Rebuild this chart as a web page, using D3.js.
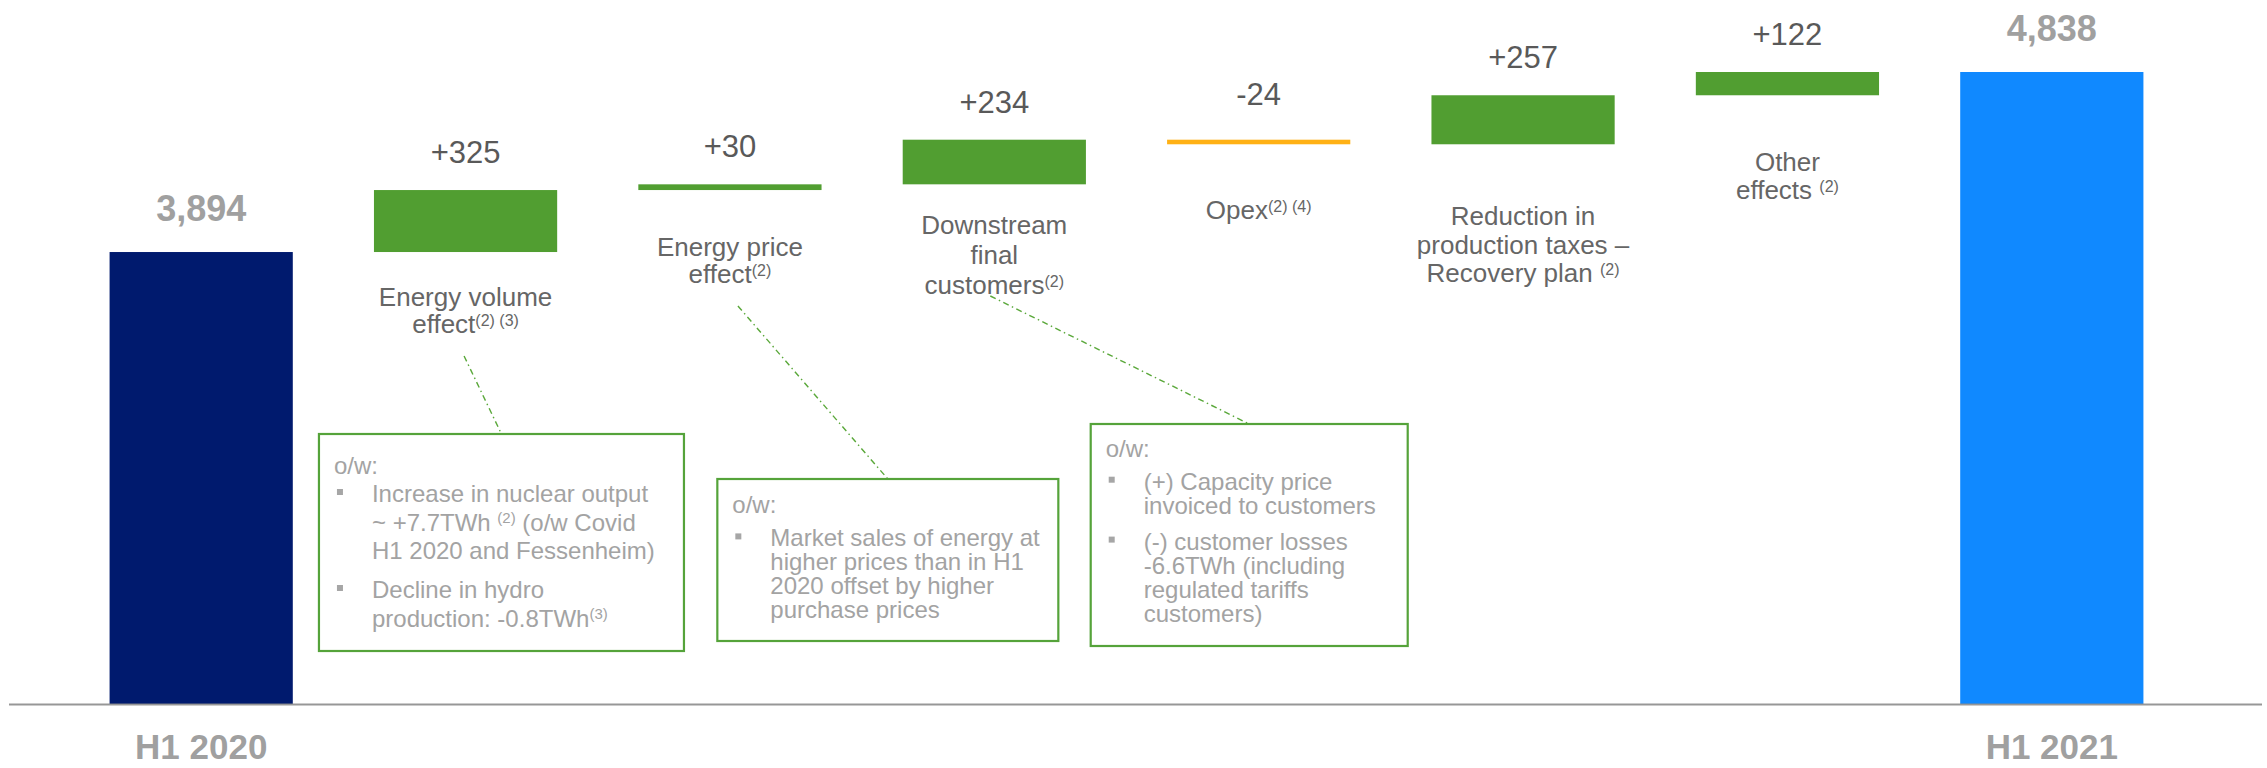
<!DOCTYPE html>
<html>
<head>
<meta charset="utf-8">
<script src="https://cdn.jsdelivr.net/npm/d3@7"></script>
<style>
  html, body { margin: 0; padding: 0; background: #fff; }
  svg { display: block; font-family: "Liberation Sans", Arial, sans-serif; }
  text { white-space: pre; }
</style>
</head>
<body>
<div id="chart"></div>
<script>
(() => {
  // ------- data -------
  const categories = [
    "H1 2020", "Energy volume effect", "Energy price effect", "Downstream final customers",
    "Opex", "Reduction in production taxes – Recovery plan", "Other effects", "H1 2021"
  ];
  const barKinds = ["start", "delta", "delta", "delta", "delta", "delta", "delta", "end"];
  const barValues = [3894, 325, 30, 234, -24, 257, 122, 4838];
  const valueLabels = ["3,894", "+325", "+30", "+234", "-24", "+257", "+122", "4,838"];
  const axisLabels = ["H1 2020", "", "", "", "", "", "", "H1 2021"];

  // {..} = superscript
  const effectLabels = [
    [],
    ["Energy volume", "effect{(2) (3)}"],
    ["Energy price", "effect{(2)}"],
    ["Downstream", "final", "customers{(2)}"],
    ["Opex{(2) (4)}"],
    ["Reduction in", "production taxes –", "Recovery plan {(2)}"],
    ["Other", "effects {(2)}"],
    []
  ];

  // call-out boxes: category index + paragraphs (first one is the "o/w:" header)
  const noteCats = [1, 2, 3];
  const noteTexts = [
    [["o/w:"],
     ["Increase in nuclear output", "~ +7.7TWh {(2)} (o/w Covid", "H1 2020 and Fessenheim)"],
     ["Decline in hydro", "production: -0.8TWh{(3)}"]],
    [["o/w:"],
     ["Market sales of energy at", "higher prices than in H1", "2020 offset by higher", "purchase prices"]],
    [["o/w:"],
     ["(+) Capacity price", "invoiced to customers"],
     ["(-) customer losses", "-6.6TWh (including", "regulated tariffs", "customers)"]]
  ];

  // ------- layout -------
  const W = 2267, H = 768;
  const Y_FLOOR = 1524;            // the slide's value axis does not start at zero
  const labelGap  = [0, 54, 66, 50, 75, 81, 76, 0];
  const labelLead = [0, 27, 27, 30, 28, 28.5, 28, 0];
  const noteLayout = [
    { dx: -55, top: 434, w: 365, h: 217, first: 40, head: 28,   lh: 28.5, para: 10.5, from: [-1.5, 356] },
    { dx: 79,  top: 479, w: 341, h: 162, first: 34, head: 33.4, lh: 23.7, para: 10,   from: [8, 306] },
    { dx: 188, top: 424, w: 317, h: 222, first: 33, head: 32.7, lh: 24.2, para: 11.5, from: [-4, 296] }
  ];

  const COL = {
    start: "#001A6E", end: "#1089FF", up: "#519E31", down: "#FFB115",
    value: "#595959", cat: "#666666", total: "#A0A0A0", note: "#A3A3A3",
    bullet: "#A6A6A6", box: "#55A33A", link: "#5AA83A", axis: "#8C8C8C"
  };

  // ------- waterfall -------
  let run = 0;
  const bars = categories.map((c, i) => {
    const v = barValues[i];
    let lo, hi;
    if (barKinds[i] === "delta") {
      const a = run, b = run + v;
      run = b;
      lo = Math.min(a, b); hi = Math.max(a, b);
    } else {
      lo = Y_FLOOR; hi = v; run = v;
    }
    return { i, c, kind: barKinds[i], v, lo, hi, label: valueLabels[i] };
  });

  const svg = d3.select("#chart").append("svg")
    .attr("width", W).attr("height", H)
    .attr("viewBox", `0 0 ${W} ${H}`);

  const x = d3.scaleBand()
    .domain(d3.range(categories.length))
    .range([69, 2184])
    .paddingInner(0.307)
    .paddingOuter(0.1535);

  const y = d3.scaleLinear()
    .domain([Y_FLOOR, d3.max(bars, d => d.hi)])
    .range([704, 72]);

  const cx = i => x(i) + x.bandwidth() / 2;

  const richLine = (sel, str, supSize, supShift) => {
    const parts = str.split(/(\{[^}]*\})/).filter(s => s !== "");
    let raised = false;
    parts.forEach(p => {
      const sup = p[0] === "{";
      const t = sel.append("tspan").text(sup ? p.slice(1, -1) : p);
      if (sup) { t.attr("font-size", supSize).attr("dy", -supShift); raised = true; }
      else if (raised) { t.attr("dy", supShift); raised = false; }
    });
  };

  const barColor = d => d.kind === "start" ? COL.start
    : d.kind === "end" ? COL.end
    : d.v < 0 ? COL.down : COL.up;

  // bars
  svg.append("g").selectAll("rect")
    .data(bars)
    .join("rect")
    .attr("x", d => x(d.i))
    .attr("width", x.bandwidth())
    .attr("y", d => y(d.hi))
    .attr("height", d => y(d.lo) - y(d.hi))
    .attr("fill", barColor);

  // base line
  svg.append("line")
    .attr("x1", 9).attr("x2", 2262)
    .attr("y1", y(Y_FLOOR) + 0.5).attr("y2", y(Y_FLOOR) + 0.5)
    .attr("stroke", COL.axis).attr("stroke-width", 1.8).attr("stroke-opacity", 0.9);

  // value labels
  svg.append("g").selectAll("text")
    .data(bars)
    .join("text")
    .attr("x", d => cx(d.i))
    .attr("y", d => y(d.hi) - (d.kind !== "delta" ? 31 : d.v < 0 ? 35 : 27))
    .attr("text-anchor", "middle")
    .attr("font-size", d => d.kind !== "delta" ? 36 : 31)
    .attr("font-weight", d => d.kind !== "delta" ? "bold" : "normal")
    .attr("fill", d => d.kind !== "delta" ? COL.total : COL.value)
    .text(d => d.label);

  // effect labels under the floating bars
  bars.forEach(d => {
    const lines = effectLabels[d.i];
    lines.forEach((ln, k) => {
      const t = svg.append("text")
        .attr("x", cx(d.i))
        .attr("y", y(d.lo) + labelGap[d.i] + k * labelLead[d.i])
        .attr("text-anchor", "middle")
        .attr("font-size", 26)
        .attr("fill", COL.cat);
      richLine(t, ln, 16, 7);
    });
  });

  // axis labels (kept just inside the bottom edge)
  svg.append("g").selectAll("text")
    .data(bars.filter(d => axisLabels[d.i]))
    .join("text")
    .attr("x", d => cx(d.i))
    .attr("y", 759)
    .attr("text-anchor", "middle")
    .attr("font-size", 35)
    .attr("font-weight", "bold")
    .attr("fill", COL.total)
    .text(d => axisLabels[d.i]);

  // call-out boxes
  noteCats.forEach((ci, n) => {
    const L = noteLayout[n];
    const bx = x(ci) + L.dx;
    const g = svg.append("g");

    g.append("line")
      .attr("x1", cx(ci) + L.from[0]).attr("y1", L.from[1])
      .attr("x2", bx + L.w / 2).attr("y2", L.top)
      .attr("stroke", COL.link).attr("stroke-width", 1.4)
      .attr("stroke-dasharray", "6,3.5,1.5,3.5");

    g.append("rect")
      .attr("x", bx).attr("y", L.top)
      .attr("width", L.w).attr("height", L.h)
      .attr("fill", "#fff")
      .attr("stroke", COL.box).attr("stroke-width", 2.2);

    let yy = L.top + L.first;
    noteTexts[n].forEach((para, p) => {
      if (p === 1) yy += L.head - L.lh;
      if (p > 1) yy += L.para;
      para.forEach((ln, k) => {
        if (p > 0 && k === 0) {
          g.append("rect")
            .attr("x", bx + 18).attr("y", yy - 13)
            .attr("width", 6).attr("height", 6)
            .attr("fill", COL.bullet);
        }
        const t = g.append("text")
          .attr("x", bx + (p === 0 ? 15 : 53))
          .attr("y", yy)
          .attr("font-size", 24)
          .attr("fill", COL.note);
        richLine(t, ln, 15, 8);
        yy += L.lh;
      });
    });
  });
})();
</script>
</body>
</html>
